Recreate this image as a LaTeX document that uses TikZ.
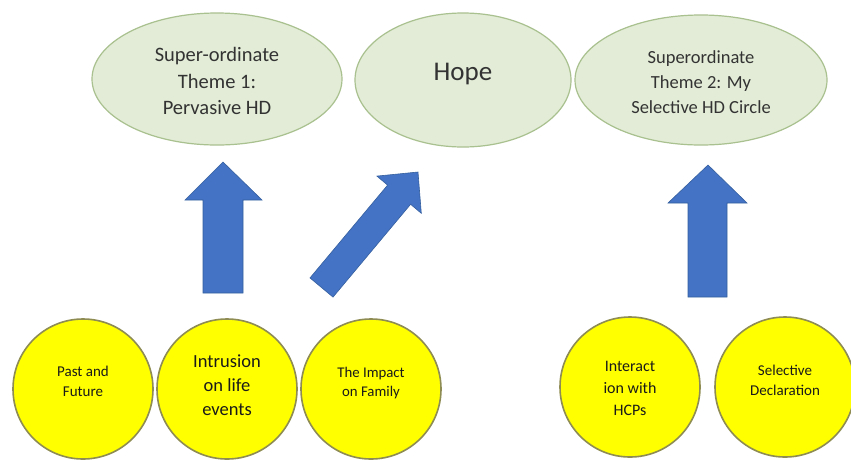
\documentclass[tikz,border=0pt]{standalone}
\usepackage{fontspec}
\setmainfont{Carlito}
\usetikzlibrary{shapes.geometric}
\definecolor{ellfill}{HTML}{E2ECD6}
\definecolor{elldraw}{HTML}{A9C08F}
\definecolor{circfill}{HTML}{FFFF00}
\definecolor{circdraw}{HTML}{8E8C52}
\definecolor{arrfill}{HTML}{4472C4}
\definecolor{arrdraw}{HTML}{35609F}
\definecolor{elltext}{HTML}{333333}
\definecolor{circtext}{HTML}{1A1A1A}
\tikzset{
  theme/.style={ellipse, fill=ellfill, draw=elldraw, line width=1.2pt, inner sep=0pt, align=center, text=elltext},
  subtheme/.style={circle, fill=circfill, draw=circdraw, line width=1.6pt, inner sep=0pt, minimum size=140pt, align=center, text=circtext},
  blockarrow/.style={fill=arrfill, draw=arrdraw, line width=0.6pt, line join=miter}
}
\begin{document}
\begin{tikzpicture}[x=1pt,y=-1pt]
\useasboundingbox (0,0) rectangle (851,459);
\fill[white] (0,0) rectangle (851,459);
% superordinate themes
\node[theme, minimum width=250pt, minimum height=132pt] (t1) at (217,79) {};
\node[text=elltext, align=center, font=\fontsize{20.5}{26.5}\selectfont] (t1txt) at (217,81) {Super-ordinate\\Theme 1:\\Pervasive HD};
\node[theme, minimum width=216pt, minimum height=134pt] (hope) at (463,80) {};
\node[text=elltext, font=\fontsize{27}{30}\selectfont] (hopetxt) at (463,74) {Hope};
\node[theme, minimum width=252pt, minimum height=130pt] (t2) at (701,80) {};
\node[text=elltext, align=center, font=\fontsize{18.5}{25}\selectfont] (t2txt) at (701,82) {Superordinate\\Theme 2: My\\Selective HD Circle};
% subthemes
\node[subtheme] (c1) at (83,389) {};
\node[text=circtext, align=center, font=\fontsize{15}{20}\selectfont] (c1txt) at (83,381) {Past and\\Future};
\node[subtheme] (c2) at (227,389) {};
\node[text=circtext, align=center, font=\fontsize{18.5}{24}\selectfont] (c2txt) at (227,385) {Intrusion\\on life\\events};
\node[subtheme] (c3) at (371,389) {};
\node[text=circtext, align=center, font=\fontsize{14.8}{19}\selectfont] (c3txt) at (371,383) {The Impact\\on Family};
\node[subtheme] (c4) at (630,387) {};
\node[text=circtext, align=center, font=\fontsize{16}{22}\selectfont] (c4txt) at (630,388) {Interact\\ion with\\HCPs};
\node[subtheme] (c5) at (785,387) {};
\node[text=circtext, align=center, font=\fontsize{15}{20}\selectfont] (c5txt) at (785,380) {Selective\\Declaration};
% block arrows
\filldraw[blockarrow] (203,293) -- (203,200) -- (185,200) -- (223,162) -- (262,200) -- (243,200) -- (243,293) -- cycle;
\filldraw[blockarrow] (310,277.9) -- (387.6,185.1) -- (376.9,176.1) -- (418,172) -- (421.3,213.3) -- (410.6,204.3) -- (333,297.1) -- cycle;
\filldraw[blockarrow] (688,297) -- (688,203) -- (668,203) -- (708,165) -- (747,203) -- (727,203) -- (727,297) -- cycle;
\end{tikzpicture}
\end{document}
